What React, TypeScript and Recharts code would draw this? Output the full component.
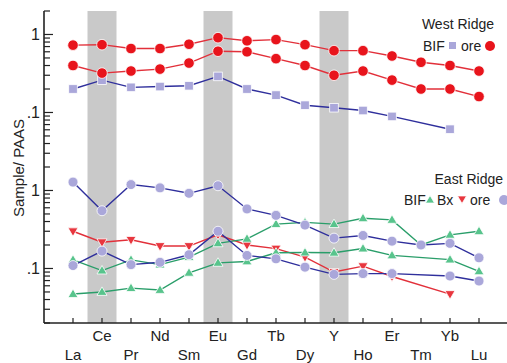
import React from 'react'
import {
  LineChart, Line, XAxis, YAxis, ReferenceArea,
} from 'recharts'

// ── REE data (normalised to PAAS) ──

const elements = ['La', 'Ce', 'Pr', 'Nd', 'Sm', 'Eu', 'Gd', 'Tb', 'Dy', 'Y', 'Ho', 'Er', 'Tm', 'Yb', 'Lu']

// West Ridge
const westOreHigh = [0.73, 0.74, 0.66, 0.66, 0.75, 0.91, 0.83, 0.86, 0.74, 0.62, 0.62, 0.53, 0.44, 0.40, 0.34]
const westOreLow = [0.40, 0.32, 0.34, 0.36, 0.43, 0.61, 0.60, 0.49, 0.40, 0.30, 0.34, 0.26, 0.20, 0.20, 0.16]
const westBif = [0.20, 0.26, 0.21, 0.215, 0.22, 0.29, 0.20, 0.167, 0.124, 0.115, 0.106, 0.089, null, 0.061, null]

// East Ridge
const eastOreHigh = [1.28, 0.55, 1.19, 1.08, 0.92, 1.15, 0.58, 0.48, 0.36, 0.245, 0.265, 0.224, 0.20, 0.21, 0.137]
const eastOreLow = [0.109, 0.167, 0.112, 0.12, 0.15, 0.30, 0.147, 0.133, 0.104, 0.084, 0.086, 0.086, null, 0.08, 0.069]
const eastBx = [0.30, 0.217, 0.233, 0.194, 0.194, 0.27, 0.20, 0.18, 0.14, 0.09, 0.107, 0.079, null, 0.047, null]
const eastBifHigh = [0.129, 0.094, 0.129, 0.112, 0.14, 0.21, 0.24, 0.37, 0.39, 0.37, 0.44, 0.42, 0.20, 0.27, 0.30]
const eastBifLow = [0.047, 0.05, 0.056, 0.053, 0.088, 0.118, 0.123, 0.159, 0.16, 0.159, 0.18, 0.147, null, 0.13, 0.092]

const shaded = ['Ce', 'Eu', 'Y']
const yTicks = [0.02, 0.03, 0.04, 0.05, 0.06, 0.07, 0.08, 0.09, 0.1, 0.2, 0.3, 0.4, 0.5, 0.6, 0.7, 0.8, 0.9, 1, 2]
const yLabels: Record<string, string> = { '0.1': '.1', '1': '1' }

const westData = elements.map((el, i) => ({
  i: i + 1, el, oreHigh: westOreHigh[i], oreLow: westOreLow[i], bif: westBif[i],
}))
const eastData = elements.map((el, i) => ({
  i: i + 1, el,
  oreHigh: eastOreHigh[i], oreLow: eastOreLow[i], bx: eastBx[i],
  bifHigh: eastBifHigh[i], bifLow: eastBifLow[i],
}))

const FONT = '"Liberation Sans", Arial, sans-serif'
const AXIS = '#222'
const RED = '#e8141c'
const RED_LINE = '#e2303a'
const LAV = '#aaa7da'
const BLUE = '#2f2f9c'
const GREEN = '#58c48c'
const GREEN_LINE = '#2a9e6a'
const GREY = '#c9c9c9'

// ── marker shapes ──

type Shape = 'circle' | 'square' | 'up' | 'down'

function Marker({ shape, x, y, fill, s }: { shape: Shape; x: number; y: number; fill: string; s: number }) {
  const stroke = { stroke: '#fff', strokeWidth: 0.8 }
  if (shape === 'circle') return <circle cx={x} cy={y} r={s} fill={fill} {...stroke} />
  if (shape === 'square') return <rect x={x - s} y={y - s} width={s * 2} height={s * 2} fill={fill} {...stroke} />
  const h = s * 1.7
  const pts = shape === 'up'
    ? `${x},${y - h * 0.6} ${x + s},${y + h * 0.4} ${x - s},${y + h * 0.4}`
    : `${x},${y + h * 0.6} ${x + s},${y - h * 0.4} ${x - s},${y - h * 0.4}`
  return <polygon points={pts} fill={fill} {...stroke} />
}

const dot = (shape: Shape, fill: string, s: number) => (p: any) => {
  if (p.cx == null || p.cy == null || p.value == null) return <g key={p.index} />
  return <Marker key={p.index} shape={shape} x={p.cx} y={p.cy} fill={fill} s={s} />
}

// ── axis ticks (drawn inward, like the original) ──

const YTickLeft = (p: any) => {
  const v = p.payload.value
  const label = yLabels[String(v)]
  const len = label ? 9 : 6
  return (
    <g>
      <line x1={p.x} x2={p.x + len} y1={p.y} y2={p.y} stroke={AXIS} strokeWidth={1.2} />
      {label && (
        <text x={p.x - 4} y={p.y + 6} textAnchor="end" fontSize={16} fill="#222" fontFamily={FONT}>
          {label}
        </text>
      )}
    </g>
  )
}

const YTickRight = (p: any) => {
  const len = yLabels[String(p.payload.value)] ? 9 : 6
  return <line x1={p.x} x2={p.x - len} y1={p.y} y2={p.y} stroke={AXIS} strokeWidth={1.2} />
}

const XTickDown = (p: any) => <line x1={p.x} x2={p.x} y1={p.y} y2={p.y + 5} stroke={AXIS} strokeWidth={1.2} />

const XTickLabel = (p: any) => {
  const idx = p.payload.value as number
  const lower = idx % 2 === 1
  return (
    <g>
      <line x1={p.x} x2={p.x} y1={p.y} y2={p.y - 5} stroke={AXIS} strokeWidth={1.2} />
      <text x={p.x} y={p.y + (lower ? 37 : 18)} textAnchor="middle" fontSize={15} fill="#222" fontFamily={FONT}>
        {elements[idx - 1]}
      </text>
    </g>
  )
}

const xTicks = elements.map((_, i) => i + 1)

function Bands() {
  return (
    <>
      {shaded.map((el) => {
        const i = elements.indexOf(el) + 1
        return (
          <ReferenceArea key={el} x1={i - 0.5} x2={i + 0.5} fill={GREY} fillOpacity={1} stroke="none" ifOverflow="hidden" />
        )
      })}
    </>
  )
}

const axisLine = { stroke: AXIS, strokeWidth: 1.6 }

const yAxes = [
  <YAxis key="l" yAxisId={0} scale="log" type="number" domain={[0.02, 2]} allowDataOverflow ticks={yTicks}
    interval={0} width={44} tickSize={0} tickMargin={0} tick={YTickLeft} axisLine={axisLine} />,
  <YAxis key="r" yAxisId="r" orientation="right" scale="log" type="number" domain={[0.02, 2]} allowDataOverflow
    ticks={yTicks} interval={0} width={0} tickSize={0} tickMargin={0} tick={YTickRight} axisLine={axisLine} />,
]

export default function App() {
  return (
    <div style={{ position: 'absolute', left: 0, top: 0, width: 507, height: 363, overflow: 'hidden', background: '#fff' }}>
      {/* West Ridge */}
      <div style={{ position: 'absolute', left: 0, top: 0 }}>
        <LineChart width={508} height={167} data={westData} margin={{ top: 11, right: 0, bottom: 0, left: 0 }}>
          <XAxis dataKey="i" type="number" domain={[0, 16]} ticks={xTicks} hide />
          <XAxis xAxisId="t" dataKey="i" type="number" domain={[0, 16]} ticks={xTicks} orientation="top"
            height={0} tickSize={0} tickMargin={0} tick={XTickDown} axisLine={axisLine} interval={0} />
          {yAxes}
          {Bands()}
          <Line dataKey="bif" stroke={BLUE} strokeWidth={1.4} connectNulls dot={dot('square', LAV, 4.3)} isAnimationActive={false} />
          <Line dataKey="oreLow" stroke={RED_LINE} strokeWidth={1.4} connectNulls dot={dot('circle', RED, 5.3)} isAnimationActive={false} />
          <Line dataKey="oreHigh" stroke={RED_LINE} strokeWidth={1.4} connectNulls dot={dot('circle', RED, 5.3)} isAnimationActive={false} />
        </LineChart>
      </div>

      {/* East Ridge */}
      <div style={{ position: 'absolute', left: 0, top: 167 }}>
        <LineChart width={508} height={196} data={eastData} margin={{ top: 0, right: 0, bottom: 0, left: 0 }}>
          <XAxis dataKey="i" type="number" domain={[0, 16]} ticks={xTicks} height={40} tickSize={0} tickMargin={0}
            tick={XTickLabel} axisLine={axisLine} interval={0} />
          <XAxis xAxisId="t" dataKey="i" type="number" domain={[0, 16]} ticks={xTicks} orientation="top"
            height={0} tickSize={0} tickMargin={0} tick={XTickDown} axisLine={axisLine} interval={0} />
          {yAxes}
          {Bands()}
          <Line dataKey="bx" stroke={RED_LINE} strokeWidth={1.4} connectNulls dot={dot('down', '#e8363e', 5)} isAnimationActive={false} />
          <Line dataKey="bifLow" stroke={GREEN_LINE} strokeWidth={1.4} connectNulls dot={dot('up', GREEN, 5)} isAnimationActive={false} />
          <Line dataKey="bifHigh" stroke={GREEN_LINE} strokeWidth={1.4} connectNulls dot={dot('up', GREEN, 5)} isAnimationActive={false} />
          <Line dataKey="oreLow" stroke={BLUE} strokeWidth={1.4} connectNulls dot={dot('circle', LAV, 5)} isAnimationActive={false} />
          <Line dataKey="oreHigh" stroke={BLUE} strokeWidth={1.4} connectNulls dot={dot('circle', LAV, 5)} isAnimationActive={false} />
        </LineChart>
      </div>

      {/* titles, legends and y label */}
      <svg width={507} height={363} style={{ position: 'absolute', left: 0, top: 0, pointerEvents: 'none' }}
        fontFamily={FONT} fill="#222">
        <text x={18} y={168} transform="rotate(-90 18 168)" textAnchor="middle" dominantBaseline="central" fontSize={15}>
          Sample/ PAAS
        </text>

        <text x={494} y={29} textAnchor="end" fontSize={14}>West Ridge</text>
        <text x={423} y={51} fontSize={14}>BIF</text>
        <rect x={449} y={42} width={7} height={7} fill={LAV} />
        <text x={461} y={51} fontSize={14}>ore</text>
        <circle cx={490} cy={46} r={5} fill={RED} />

        <text x={503} y={184} textAnchor="end" fontSize={14}>East Ridge</text>
        <text x={404} y={205} fontSize={14}>BIF</text>
        <Marker shape="up" x={430} y={200} fill={GREEN} s={4.5} />
        <text x={437} y={205} fontSize={14}>Bx</text>
        <Marker shape="down" x={462} y={199} fill="#e8363e" s={4.5} />
        <text x={470} y={205} fontSize={14}>ore</text>
        <circle cx={504} cy={200} r={5} fill={LAV} />
      </svg>
    </div>
  )
}
